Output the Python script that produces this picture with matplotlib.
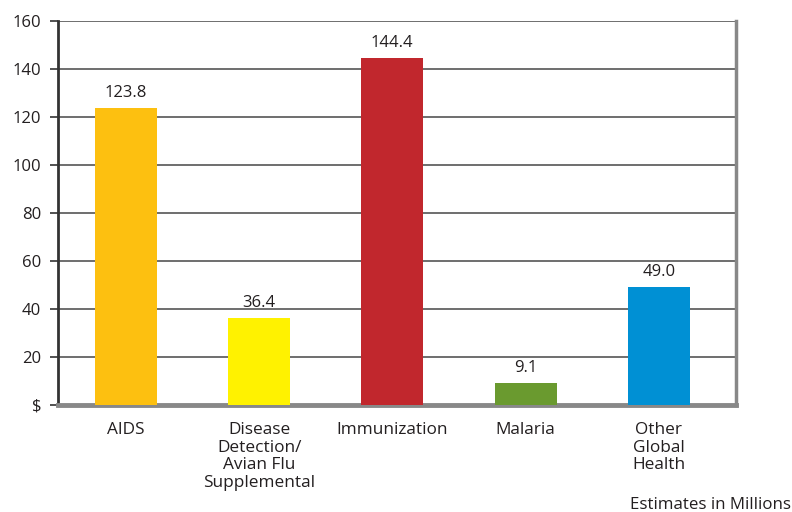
import matplotlib
matplotlib.use("Agg")
import matplotlib.pyplot as plt

categories = ["AIDS", "Disease\nDetection/\nAvian Flu\nSupplemental", "Immunization", "Malaria", "Other\nGlobal\nHealth"]
values = [123.8, 36.4, 144.4, 9.1, 49.0]
colors = ["#FDC010", "#FFF200", "#C1272D", "#6A9A2F", "#0090D4"]
yticks = [0, 20, 40, 60, 80, 100, 120, 140, 160]
yticklabels = ["$", "20", "40", "60", "80", "100", "120", "140", "160"]

plt.rcParams['font.family'] = ['Open Sans', 'DejaVu Sans']
fig = plt.figure(figsize=(7.92, 5.12), dpi=100)
ax = fig.add_axes([58/792, 1-405/512, (736-58)/792, (405-21)/512])

x = list(range(len(categories)))
ax.bar(x, values, width=0.465, color=colors, zorder=3)
for xi, v in zip(x, values):
    ax.annotate(f"{v:.1f}", (xi, v), xytext=(0, 5), textcoords="offset points",
                ha="center", va="bottom", fontsize=12, color="#231F20")

ax.set_xlim(-0.51, 4.58)
ax.set_ylim(0, 160)
ax.set_yticks(yticks)
ax.set_yticklabels(yticklabels, fontsize=12, color="#231F20")
ax.yaxis.grid(True, color="#555555", linewidth=1.2, zorder=0)
ax.set_xticks(x)
ax.set_xticklabels(categories, fontsize=12.4, color="#231F20", linespacing=1.12)
ax.tick_params(axis="x", length=0, pad=12.5)
ax.tick_params(axis="y", length=6, width=1.2, color="#333333", pad=6)

ax.spines["top"].set_visible(False)
ax.spines["left"].set_color("#333333")
ax.spines["left"].set_linewidth(2)
ax.spines["bottom"].set_color("#888888")
ax.spines["bottom"].set_linewidth(3.5)
ax.spines["right"].set_color("#888888")
ax.spines["right"].set_linewidth(2.5)

fig.text(630/792, 1-505/512, "Estimates in Millions", fontsize=12.2, color="#231F20", ha="left", va="center")

fig.savefig("out.png", dpi=100)
